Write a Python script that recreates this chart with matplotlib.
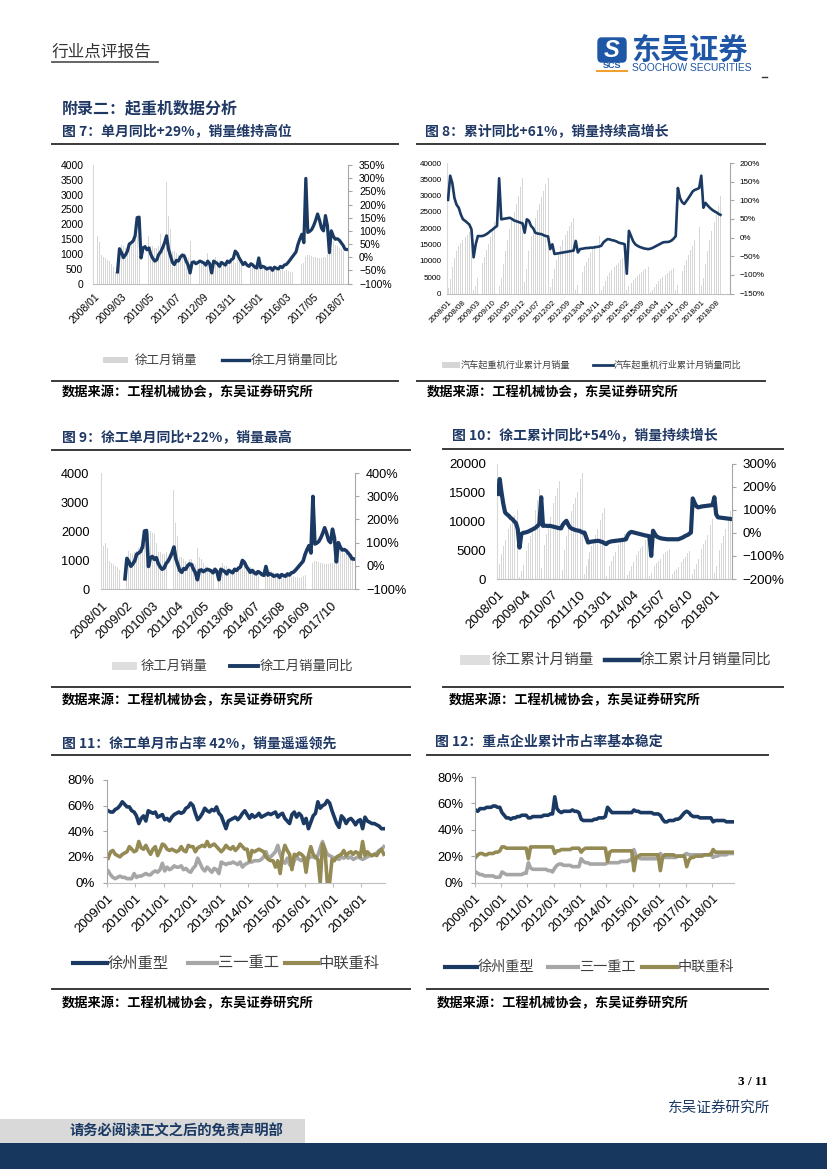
import numpy as np
import matplotlib.pyplot as plt
from matplotlib.lines import Line2D
from matplotlib.patches import Rectangle, FancyBboxPatch

plt.rcParams['font.family'] = ['Liberation Sans', 'Noto Sans CJK SC', 'DejaVu Sans']
CJK = ['Noto Sans CJK SC', 'DejaVu Sans']

W, H = 827, 1169
NAVY = '#1b3a63'
BAR = '#d6d6d6'
GREY = '#a6a6a6'
OLIVE = '#948a54'
TITLE = '#1f3864'

# ---------------- data ----------------
months = [f'{y}/{m:02d}' for y in range(2008, 2019) for m in range(1, 13)][:130]   # 2008/01-2018/10
months_ind = [m for m in months if m != '2015/01']                                 # 1-2 月合并
months_share = months[12:]                                                          # 2009/01-2018/10

# 徐工月销量 (台)
sales_m = [1000, 1500, 1600, 1400, 950, 900, 850, 800, 750, 650, 550, 400,
           340, 1100, 1300, 1250, 1200, 1260, 1310, 1430, 1490, 1540, 1600, 1650,
           1940, 2000, 1940, 1890, 1600, 1260, 1260, 1200, 1200, 1260, 1660, 1260,
           1490, 3430, 2290, 1830, 1090, 1090, 1030, 970, 910, 1030, 1030, 910,
           860, 1430, 1090, 1030, 910, 800, 740, 690, 690, 630, 1030, 690,
           570, 740, 910, 800, 780, 700, 650, 620, 650, 700, 720, 750,
           700, 780, 780, 760, 750, 700, 680, 650, 640, 620, 600, 580,
           550, 600, 650, 620, 580, 560, 540, 520, 500, 500, 480, 470,
           450, 420, 450, 420, 400, 380, 420, 450, 500, 550, 650, 700,
           900, 950, 950, 920, 900, 880, 860, 850, 870, 880, 900, 1000,
           1100, 1150, 1450, 1300, 1250, 1200, 1150, 1100, 1050, 1100]
# 徐工月销量同比 (%)
yoy_m = [None] * 12 + [
    -56, 32, 18, -2, 8, 22, 50, 55, 62, 82, 150, 152,
    -3, 35, 40, 28, 35, 10, -5, -15, -10, 10, 20, 36,
    55, 81, 30, 5, -20, -28, -12, -15, 0, 8, 5, -15,
    -30, -60, -20, -18, -25, -20, -15, -18, -22, -30, -15, -25,
    -60, -15, -20, -25, -35, -20, -25, -30, -15, -20, -10, -5,
    23, 15, -3, -15, -28, -20, -30, -35, -25, -30, -38, -41,
    -3, -40, -35, -38, -45, -42, -40, -50, -38, -42, -45, -35,
    -40, -30, -28, -20, -10, 0, 10, 20, 49, 70, 87, 55,
    299, 94, 98, 105, 120, 140, 164, 140, 110, 100, 158, 120,
    17, 100, 80, 68, 70, 65, 55, 45, 30, 29]

# 汽车起重机行业累计月销量 (台)
ind_cum = [1800, 4500, 8000, 11000, 13000, 14500, 15500, 16300, 17200, 18000, 18700, 19300,
           1000, 2400, 4600, 7000, 9200, 11300, 13300, 15200, 17200, 19500, 21800, 24500,
           2200, 4800, 9000, 13000, 16500, 19800, 22500, 25000, 27300, 29800, 32500, 35300,
           3500, 7500, 13000, 17500, 20500, 23200, 25500, 27500, 29600, 31500, 33500, 35500,
           1900, 4300, 7500, 10300, 12700, 14700, 16300, 17800, 19300, 20600, 21800, 23000,
           1100, 2600, 4600, 6600, 8300, 9800, 11000, 12300, 13700, 15000, 16300, 17600,
           1100, 2300, 3900, 5300, 6400, 7300, 8000, 8700, 9500, 10200, 10900, 11600,
           1000, 2200, 3200, 4000, 4700, 5300, 5900, 6500, 7100, 7600, 8100,
           400, 1000, 2000, 3000, 3800, 4500, 5100, 5700, 6300, 6800, 7300, 7800,
           1000, 2500, 4800, 7000, 8800, 10400, 11800, 13200, 14700, 16300, 18300, 20300,
           2200, 4600, 9000, 13000, 16500, 19300, 21800, 24200, 26900, 29800]
# 汽车起重机行业累计月销量同比 (%)
ind_yoy = [101, 166, 146, 106, 88, 80, 62, 49, 45, 40, 35, 22,
           -53, -18, 4, 4, 4, 6, 9, 13, 18, 22, 27, 31,
           159, 49, 50, 51, 52, 53, 50, 46, 44, 42, 40, 38,
           13, 49, 45, 31, 25, 13, 11, 10, 9, 6, 4, 3,
           -31, -18, -44, -43, -42, -41, -40, -39, -38, -37, -36, -35,
           -9, -40, -31, -30, -29, -28, -28, -27, -27, -26, -25, -24,
           -22, -13, -8, -4, -5, -7, -8, -10, -13, -15, -16, -18,
           -97, 18, 4, -10, -18, -22, -25, -27, -29, -30, -31,
           -30, -28, -25, -22, -19, -16, -13, -12, -12, -11, -8, -3,
           4, 133, 106, 95, 90, 98, 106, 115, 124, 128, 130, 133,
           166, 80, 93, 86, 80, 75, 71, 68, 64, 61]

# 徐工累计月销量 (台)
xg_cum = [1000, 2600, 4300, 5800, 6800, 7800, 8700, 9500, 10300, 11000, 11500, 12000,
          350, 1400, 2500, 3700, 4900, 6200, 7500, 8900, 10400, 12000, 13700, 15500,
          1900, 3900, 5900, 7800, 9400, 10700, 12000, 13200, 14400, 15700, 17000, 18200,
          1600, 5100, 7500, 9400, 10600, 11800, 13000, 14100, 15100, 16300, 17400, 18400,
          900, 2300, 3500, 4700, 5800, 6800, 7700, 8600, 9500, 10300, 11400, 12300,
          600, 1400, 2300, 3100, 3900, 4600, 5300, 5900, 6500, 7200, 7800, 8500,
          700, 1400, 2200, 2900, 3600, 4200, 4800, 5300, 5800, 6300, 6800, 7200,
          500, 1100, 1700, 2200, 2700, 3100, 3500, 3900, 4300, 4600, 4900, 5200,
          450, 870, 1320, 1740, 2140, 2520, 2940, 3390, 3890, 4440, 4900, 5300,
          800, 1750, 2650, 3530, 4380, 5200, 6000, 6780, 7580, 8430, 9330, 10330,
          1100, 2250, 3700, 5000, 6250, 7450, 8600, 9700, 10750, 11850]
# 徐工累计月销量同比 (%)
xg_yoy = [168, 233, 175, 125, 88, 80, 74, 65, 59, 50, 42, 16,
          -64, -6, 0, 1, 3, 6, 10, 14, 18, 23, 30, 38,
          154, 30, 31, 30, 30, 30, 28, 26, 24, 22, 20, 19,
          35, 45, 52, 35, 23, 18, 15, 12, 10, 9, 5, 1,
          1, -20, -42, -40, -38, -37, -36, -35, -35, -38, -40, -45,
          -49, -42, -39, -37, -36, -35, -34, -33, -32, -31, -30, -28,
          -10, 0, 4, 2, 0, -2, -4, -6, -8, -10, -12, -13,
          -15, -100, 9, -5, -16, -20, -23, -25, -26, -27, -28, -28,
          -28, -28, -28, -28, -28, -25, -22, -18, -13, -10, -5, 1,
          149, 130, 115, 110, 112, 114, 115, 116, 117, 118, 119, 120,
          154, 80, 67, 66, 65, 64, 63, 62, 61, 60]

# 单月市占率 (%)
xz_m = [56, 55, 55, 57, 58, 60, 63, 61, 59, 59, 56, 55,
        52, 46, 50, 52, 48, 56, 55, 54, 55, 51, 52, 53,
        49, 50, 48, 51, 53, 54, 55, 54, 55, 58, 59, 62,
        60, 54, 49, 51, 54, 58, 56, 55, 57, 56, 59, 54,
        52, 47, 42, 48, 49, 50, 51, 49, 51, 54, 56, 53,
        50, 53, 51, 52, 54, 51, 52, 53, 54, 53, 54, 55,
        51, 53, 54, 50, 48, 46, 53, 55, 51, 54, 52, 46,
        50, 42, 47, 52, 54, 63, 58, 60, 61, 64, 62, 56,
        51, 46, 43, 52, 50, 46, 49, 50, 48, 45, 48, 49,
        42, 51, 48, 47, 46, 46, 45, 44, 42, 42]
sy_m = [9, 6, 4, 3, 4, 5, 4, 4, 3, 3, 3, 7,
        4, 5, 5, 6, 7, 6, 6, 8, 9, 8, 10, 15,
        9, 12, 10, 11, 13, 12, 12, 13, 10, 11, 9, 8,
        11, 13, 19, 15, 11, 9, 12, 10, 8, 11, 10, 7,
        16, 15, 14, 15, 15, 16, 15, 14, 16, 12, 14, 15,
        16, 16, 17, 17, 17, 18, 20, 24, 19, 20, 22, 24,
        29, 22, 17, 15, 19, 14, 12, 17, 20, 18, 17, 19,
        19, 19, 20, 20, 19, 21, 27, 32, 26, 22, 21, 20,
        19, 19, 18, 20, 19, 20, 19, 20, 18, 19, 20, 19,
        18, 19, 20, 21, 21, 22, 23, 25, 26, 28]
zl_m = [19, 24, 25, 22, 21, 20, 22, 23, 24, 28, 26, 24,
        25, 32, 27, 26, 29, 25, 22, 26, 28, 21, 25, 30,
        29, 26, 25, 26, 25, 24, 25, 28, 25, 24, 29, 28,
        28, 24, 27, 28, 29, 28, 32, 28, 29, 30, 28, 26,
        24, 26, 29, 27, 26, 28, 25, 27, 30, 28, 26, 26,
        17, 25, 24, 25, 26, 25, 24, 20, 18, 17, 17, 12,
        17, 7, 22, 29, 25, 22, 10, 22, 21, 23, 22, 20,
        8, 21, 28, 22, 20, 18, 0, 30, 26, 0, 0, 18,
        17, 20, 21, 22, 25, 21, 23, 24, 22, 24, 23, 20,
        32, 21, 24, 22, 21, 22, 21, 24, 26, 22]

# 累计市占率 (%)
xz_c = [55, 54, 56, 56, 56, 57, 57, 57, 58, 58, 57, 57,
        53, 51, 49, 49, 48, 49, 49, 50, 50, 51, 51, 51,
        49, 49, 50, 50, 50, 50, 50, 51, 51, 51, 52, 52,
        65, 56, 54, 53, 54, 54, 54, 54, 55, 54, 54, 53,
        48, 47, 47, 47, 47, 47, 48, 48, 49, 49, 49, 50,
        57, 55, 53, 53, 53, 53, 53, 53, 53, 53, 53, 53,
        55, 54, 54, 53, 53, 53, 53, 53, 53, 52, 52, 52,
        51, 48, 46, 46, 47, 47, 47, 48, 48, 49, 51, 53,
        54, 53, 51, 50, 50, 50, 49, 49, 49, 49, 49, 49,
        46, 47, 47, 47, 47, 47, 46, 46, 46, 46]
sy_c = [8, 7, 6, 6, 5, 5, 5, 5, 5, 4, 4, 4,
        8, 7, 6, 6, 6, 6, 6, 6, 6, 6, 7, 7,
        15, 11, 10, 10, 10, 10, 10, 10, 10, 9, 9, 8,
        11, 13, 14, 14, 13, 13, 13, 13, 12, 12, 12, 12,
        18, 16, 15, 15, 14, 14, 14, 14, 14, 14, 14, 14,
        15, 15, 15, 15, 15, 15, 16, 16, 16, 16, 17, 17,
        25, 20, 19, 18, 18, 18, 18, 18, 18, 18, 18, 18,
        22, 20, 19, 19, 19, 19, 19, 19, 20, 20, 20, 21,
        22, 21, 21, 21, 21, 21, 21, 21, 21, 21, 21, 22,
        19, 20, 20, 21, 21, 21, 21, 22, 22, 22]
zl_c = [19, 21, 22, 22, 21, 21, 22, 22, 22, 23, 23, 24,
        27, 27, 26, 26, 26, 26, 26, 26, 26, 26, 26, 26,
        18, 27, 27, 27, 27, 27, 27, 27, 27, 27, 27, 27,
        22, 24, 24, 25, 25, 25, 25, 25, 26, 26, 26, 26,
        23, 25, 26, 26, 26, 26, 26, 26, 26, 26, 26, 26,
        16, 23, 24, 24, 24, 24, 24, 24, 24, 24, 24, 24,
        9, 19, 20, 21, 21, 21, 21, 21, 21, 21, 21, 21,
        9, 19, 21, 21, 21, 21, 21, 20, 20, 20, 20, 20,
        12, 17, 19, 19, 20, 20, 20, 20, 21, 21, 21, 21,
        25, 23, 23, 23, 23, 23, 23, 23, 23, 23]

source = '数据来源：工程机械协会，东吴证券研究所'

# ---------------- helpers ----------------
fig = plt.figure(figsize=(W / 100, H / 100), dpi=100)


def box(x0, y0, x1, y1):
    return [x0 / W, 1 - y1 / H, (x1 - x0) / W, (y1 - y0) / H]


def txt(x, y, s, size, color='#000000', weight='normal', ha='left', family=CJK, **kw):
    fig.text(x / W, 1 - y / H, s, fontsize=size, color=color, fontweight=weight,
             ha=ha, va='center', family=family, **kw)


def hline(x0, x1, y, color='#3a3a3a', lw=1.4):
    fig.add_artist(Line2D([x0 / W, x1 / W], [1 - y / H, 1 - y / H], color=color, lw=lw))


def rect(x0, y0, x1, y1, color):
    fig.add_artist(Rectangle((x0 / W, 1 - y1 / H), (x1 - x0) / W, (y1 - y0) / H,
                             color=color, transform=fig.transFigure, lw=0))


def pct(v):
    return f'{int(v)}%'.replace('-', '\u2212')


def dual(pbox, labels, bars, yoy, lmax, lstep, rmin, rmax, rstep, tstep, fs, lw,
         lpad, rpad, xpad, nslots=None):
    ax = fig.add_axes(box(*pbox))
    x = np.arange(len(labels))
    ax.bar(x, bars, width=0.45, color=BAR, linewidth=0)
    ax.set_xlim(-0.5, (nslots or len(labels)) - 0.5)
    ax.set_ylim(0, lmax)
    ax.set_yticks(np.arange(0, lmax + 1, lstep))
    ax.set_xticks(x[::tstep])
    ax.set_xticklabels(labels[::tstep], rotation=45, ha='right', rotation_mode='anchor',
                       fontsize=fs)
    ax.tick_params(axis='x', length=0, pad=xpad)
    ax.tick_params(axis='y', length=0, labelsize=fs, pad=lpad)
    for s in ('top', 'right'):
        ax.spines[s].set_visible(False)
    ax.spines['left'].set_color('#d9d9d9')
    ax.spines['bottom'].set_color('#bfbfbf')
    ax2 = ax.twinx()
    ax2.plot(x, np.array(yoy, dtype=float), color=NAVY, lw=lw, solid_joinstyle='round')
    ax2.set_ylim(rmin, rmax)
    rt = np.arange(rmin, rmax + 1, rstep)
    ax2.set_yticks(rt)
    ax2.set_yticklabels([pct(v) for v in rt], fontsize=fs)
    ax2.tick_params(axis='y', length=3, color=GREY, pad=rpad)
    for s in ('top', 'left', 'bottom'):
        ax2.spines[s].set_visible(False)
    ax2.spines['right'].set_color(GREY)
    return ax


def share(pbox, series, fs, lw, ypad):
    ax = fig.add_axes(box(*pbox))
    x = np.arange(len(months_share))
    for s, c in zip(series, (NAVY, GREY, OLIVE)):
        ax.plot(x, s, color=c, lw=lw, solid_joinstyle='round')
    ax.set_xlim(-0.5, len(x) - 0.5)
    ax.set_ylim(0, 80)
    ax.set_yticks([0, 20, 40, 60, 80])
    ax.set_yticklabels([pct(v) for v in (0, 20, 40, 60, 80)], fontsize=fs)
    ax.set_xticks(x[::12] - 0.5)
    ax.set_xticklabels(months_share[::12], rotation=45, ha='right', rotation_mode='anchor',
                       fontsize=fs)
    ax.tick_params(axis='x', length=3, color='#bfbfbf', pad=4)
    ax.tick_params(axis='y', length=3, color='#a6a6a6', pad=ypad)
    for s in ('top', 'right'):
        ax.spines[s].set_visible(False)
    ax.spines['left'].set_color('#a6a6a6')
    ax.spines['bottom'].set_color('#bfbfbf')
    return ax


# ---------------- page header ----------------
txt(52, 52, '行业点评报告', 12, color='#333333')
hline(52, 158, 62, color='#595959', lw=1.3)

# logo
fig.add_artist(FancyBboxPatch((598 / W, 1 - 62 / H), 28 / W, 24 / H,
                              boxstyle='round,pad=0,rounding_size=0.004',
                              color='#1f56a6', transform=fig.transFigure))
txt(612, 50.5, 'S', 17, color='white', weight='bold', ha='center',
    family=['Liberation Sans'], style='italic')
txt(612, 66, 'SCS', 6.5, color='#1f56a6', weight='bold', ha='center', family=['Liberation Sans'])
hline(597, 627, 71, color='#f0a030', lw=1.5)
txt(631, 50, '东吴证券', 21, color='#1f56a6', weight='bold')
txt(632, 68, 'SOOCHOW SECURITIES', 7.4, color='#1f56a6', family=['Liberation Sans'])
hline(762, 767, 77, color='#333333', lw=1.0)

txt(62, 108, '附录二：起重机数据分析', 11.5, color=TITLE, weight='bold')

# ---------------- figure 7 ----------------
txt(62, 132, '图 7：单月同比+29%，销量维持高位', 10, color=TITLE, weight='bold')
hline(52, 398, 143.5)
dual((93, 165, 348, 283.5), months, sales_m, yoy_m, 4000, 500, -100, 350, 50, 14,
     7.5, 2.3, 7, 5, 6)
rect(103, 357, 128, 363, BAR)
txt(135, 360, '徐工月销量', 9, color='#404040')
hline(222, 249, 360, color=NAVY, lw=2.4)
txt(251, 360, '徐工月销量同比', 9, color='#404040')
hline(52, 398, 381)
txt(62, 392, source, 9.5, weight='bold')

# ---------------- figure 8 ----------------
txt(425, 132, '图 8：累计同比+61%，销量持续高增长', 10, color=TITLE, weight='bold')
hline(417, 765, 144)
dual((447, 163, 730, 293.5), months_ind, ind_cum, ind_yoy, 40000, 5000, -150, 200, 50, 7,
     5.8, 1.9, 4, 4, 4, nslots=133)
rect(442, 362, 460, 368, BAR)
txt(461, 365, '汽车起重机行业累计月销量', 6.6, color='#404040')
hline(593, 613, 365, color=NAVY, lw=2.0)
txt(614, 365, '汽车起重机行业累计月销量同比', 6.6, color='#404040')
hline(417, 765, 381)
txt(427, 392, source, 9.5, weight='bold')

# ---------------- figure 9 ----------------
txt(62, 438, '图 9：徐工单月同比+22%，销量最高', 10, color=TITLE, weight='bold')
hline(52, 410, 450)
dual((100.5, 473, 355, 589), months, sales_m, yoy_m, 4000, 1000, -100, 400, 100, 13,
     9.2, 2.6, 8, 5, 8)
rect(112, 662, 137, 670, '#dedede')
txt(141, 666, '徐工月销量', 9.6, color='#404040')
hline(230, 258, 666, color=NAVY, lw=2.8)
txt(260, 666, '徐工月销量同比', 9.6, color='#404040')
hline(52, 410, 687)
txt(62, 700, source, 9.5, weight='bold')

# ---------------- figure 10 ----------------
txt(452, 436, '图 10：徐工累计同比+54%，销量持续增长', 10, color=TITLE, weight='bold')
hline(443, 783, 449)
dual((497, 463.5, 731.5, 579), months, xg_cum, xg_yoy, 20000, 5000, -200, 300, 100, 15,
     9.6, 3.0, 8, 5, 7)
rect(460, 655, 490, 665, '#dedede')
txt(492, 660, '徐工累计月销量', 10.5, color='#404040')
hline(605, 639, 660, color=NAVY, lw=3.2)
txt(640, 660, '徐工累计月销量同比', 10.5, color='#404040')
hline(443, 783, 687)
txt(449, 700, source, 9.5, weight='bold')

# ---------------- figure 11 ----------------
txt(62, 743, '图 11：徐工单月市占率 42%，销量遥遥领先', 10, color=TITLE, weight='bold')
hline(52, 410, 755)
share((107, 780, 385, 882.5), (xz_m, sy_m, zl_m), 9.6, 2.6, 6)
for x0, x1, c, s in ((73, 107, NAVY, '徐州重型'), (188, 217, GREY, '三一重工'),
                     (285, 318, OLIVE, '中联重科')):
    hline(x0, x1, 963, color=c, lw=3.0)
    txt(x1 + 1, 963, s, 11, color='#404040')
hline(52, 410, 989)
txt(62, 1003, source, 9.5, weight='bold')

# ---------------- figure 12 ----------------
txt(435, 742, '图 12：重点企业累计市占率基本稳定', 10, color=TITLE, weight='bold')
hline(427, 768, 755)
share((474.5, 777, 734, 882.5), (xz_c, sy_c, zl_c), 9.4, 2.6, 5)
for x0, x1, c, s in ((445, 477, NAVY, '徐州重型'), (548, 578, GREY, '三一重工'),
                     (642, 677, OLIVE, '中联重科')):
    hline(x0, x1, 967, color=c, lw=3.0)
    txt(x1 + 1, 967, s, 10.2, color='#404040')
hline(427, 768, 989)
txt(437, 1003, source, 9.5, weight='bold')

# ---------------- footer ----------------
txt(768, 1082, '3 / 11', 9.5, weight='bold', ha='right', family=['Liberation Serif'])
txt(770, 1108, '东吴证券研究所', 10.5, color=NAVY, ha='right')
rect(0, 1119, 305, 1143, '#d9d9d9')
rect(0, 1143, W, H, '#17375e')
txt(70, 1131, '请务必阅读正文之后的免责声明部', 10.3, color=NAVY, weight='bold')

fig.savefig('out.png', dpi=100, facecolor='white')
